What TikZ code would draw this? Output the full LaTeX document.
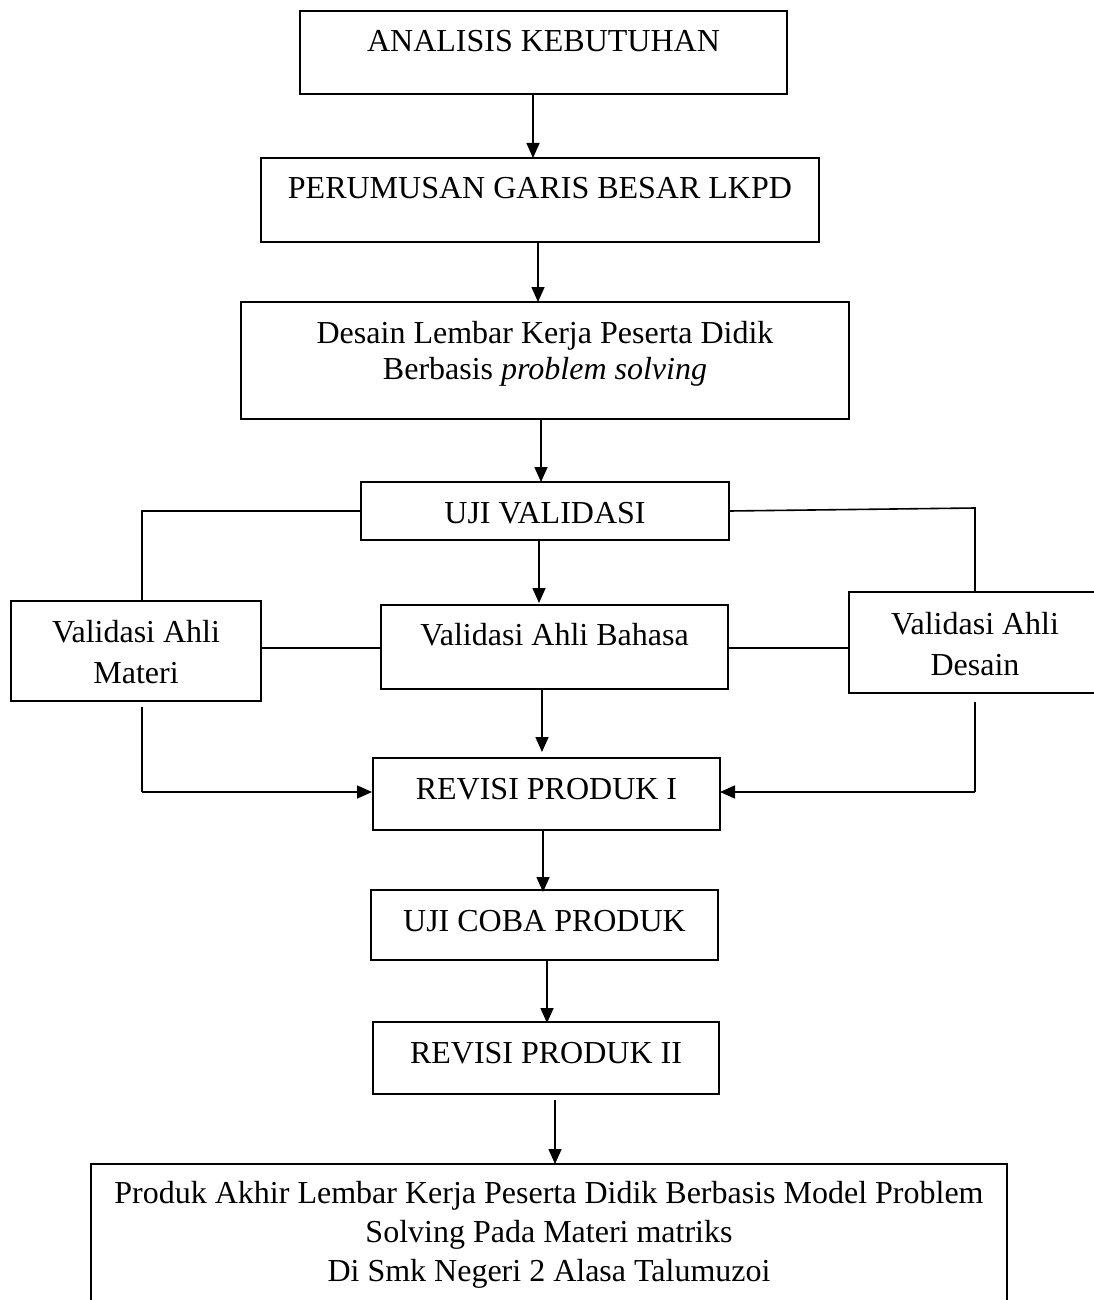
\documentclass[tikz,border=0pt]{standalone}
\usepackage{fontspec}
\setmainfont{Liberation Serif}
\usetikzlibrary{arrows.meta}
\newcommand\bxt[5]{\parbox[c][#2pt][t]{#1pt}{\fontsize{32pt}{#4pt}\selectfont\centering\rule{0pt}{#3pt}#5\par}}
\begin{document}
\begin{tikzpicture}[x=1pt,y=-1pt,
  box/.style={draw,line width=1.6pt,inner sep=0pt,outer sep=0pt,anchor=north west},
  ln/.style={line width=1.6pt},
  arr/.style={line width=1.6pt,-{Triangle[length=15pt,width=13pt]}}]
\useasboundingbox (0,0) rectangle (1094,1300);
\clip (0,0) rectangle (1094,1300);
\fill[white] (0,0) rectangle (1094,1300);
% boxes
\node[box] (b1) at (300,11) {\bxt{487}{83}{41}{41}{ANALISIS KEBUTUHAN}};
\node[box] (b2) at (261,158) {\bxt{558}{84}{41}{41}{PERUMUSAN GARIS BESAR LKPD}};
\node[box] (b3) at (241,302) {\bxt{608}{117}{41}{36.6}{Desain Lembar Kerja Peserta Didik\\Berbasis \textit{problem solving}}};
\node[box] (uji) at (361,482) {\bxt{368}{58}{41}{41}{UJI VALIDASI}};
\node[box] (mat) at (11,601) {\bxt{250}{100}{41}{41}{Validasi Ahli\\Materi}};
\node[box] (bah) at (381,605) {\bxt{347}{84}{40}{41}{Validasi Ahli Bahasa}};
\node[box] (des) at (849,592) {\bxt{252}{101}{42}{41}{Validasi Ahli\\Desain}};
\node[box] (rv1) at (373,758) {\bxt{347}{72}{41}{41}{REVISI PRODUK I}};
\node[box] (ujc) at (371,890) {\bxt{347}{70}{41}{41}{UJI COBA PRODUK}};
\node[box] (rv2) at (373,1022) {\bxt{346}{72}{41}{41}{REVISI PRODUK II}};
\node[box] (fin) at (91,1164) {\bxt{916}{160}{39}{39}{Produk Akhir Lembar Kerja Peserta Didik Berbasis Model Problem\\Solving Pada Materi matriks\\Di Smk Negeri 2 Alasa Talumuzoi}};
% reference coordinates
\coordinate (xa) at (533,0);
\coordinate (xb) at (538,0);
\coordinate (xc) at (541,0);
\coordinate (xd) at (539,0);
\coordinate (xe) at (542,0);
\coordinate (xf) at (543,0);
\coordinate (xg) at (547,0);
\coordinate (xh) at (555,0);
\coordinate (xl) at (142,0);
\coordinate (xr) at (975,0);
\coordinate (ym) at (0,648);
\coordinate (yb) at (0,792);
\coordinate (rt) at (975,508);
% vertical arrows
\draw[arr] (b1.south -| xa) -- (b2.north -| xa);
\draw[arr] (b2.south -| xb) -- (b3.north -| xb);
\draw[arr] (b3.south -| xc) -- (uji.north -| xc);
\draw[arr] (uji.south -| xd) -- ([yshift=2pt]bah.north -| xd);
\draw[arr] (bah.south -| xe) -- ([yshift=6pt]rv1.north -| xe);
\draw[arr] (rv1.south -| xf) -- ([yshift=-2pt]ujc.north -| xf);
\draw[arr] (ujc.south -| xg) -- ([yshift=-1pt]rv2.north -| xg);
\draw[arr] ([yshift=-6pt]rv2.south -| xh) -- (fin.north -| xh);
% branches from UJI VALIDASI
\draw[ln] (uji.west) -- (uji.west -| xl) -- (mat.north -| xl);
\draw[ln] (uji.east) -- (rt) -- (des.north -| rt);
\draw[ln] (mat.east |- ym) -- (bah.west |- ym);
\draw[ln] (bah.east |- ym) -- (des.west |- ym);
% into REVISI PRODUK I
\draw[ln] ([yshift=-6pt]mat.south -| xl) -- (xl |- yb);
\draw[arr] (xl |- yb) -- ([xshift=-1pt]rv1.west |- yb);
\draw[ln] ([yshift=-9pt]des.south -| xr) -- (xr |- yb);
\draw[arr] (xr |- yb) -- (rv1.east |- yb);
\end{tikzpicture}
\end{document}
